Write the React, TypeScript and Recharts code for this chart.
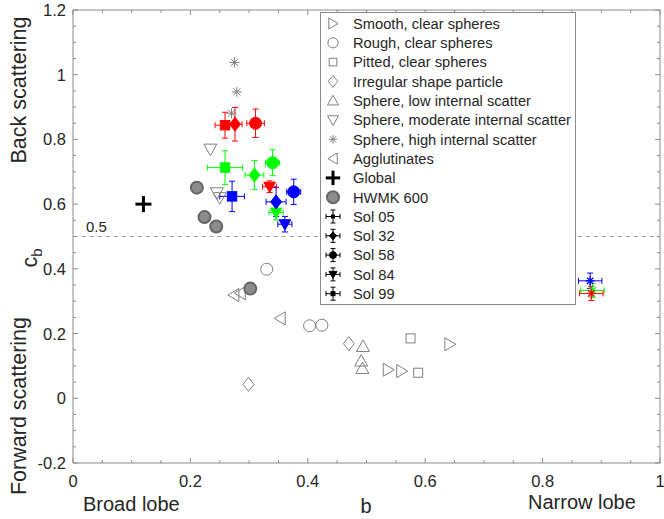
import React from 'react';
import { ScatterChart, Scatter, XAxis, YAxis, ReferenceLine, ErrorBar } from 'recharts';

const FONT = '"Liberation Sans", Arial, Helvetica, sans-serif';
const AXIS = '#8a8a8a';
const GREY = '#7f7f7f';
const TEXT = '#262626';

// ---- Laboratory particle types (b, c) ----
const smoothB = [0.537, 0.56, 0.642];
const smoothC = [0.088, 0.084, 0.167];
const roughB = [0.33, 0.403, 0.424];
const roughC = [0.399, 0.224, 0.226];
const pittedB = [0.575, 0.588];
const pittedC = [0.185, 0.079];
const irregularB = [0.47, 0.299];
const irregularC = [0.169, 0.043];
const lowScatB = [0.494, 0.491, 0.493];
const lowScatC = [0.16, 0.115, 0.092];
const modScatB = [0.234, 0.245, 0.25];
const modScatC = [0.77, 0.635, 0.62];
const highScatB = [0.275, 0.279, 0.27];
const highScatC = [1.038, 0.947, 0.881];
const agglutB = [0.274, 0.285, 0.353];
const agglutC = [0.319, 0.325, 0.247];
const globalB = [0.12];
const globalC = [0.6];
const hwmkB = [0.211, 0.224, 0.244, 0.302];
const hwmkC = [0.651, 0.56, 0.531, 0.339];

// ---- Sol measurements (red / green / blue) ----
const sols = ['Sol 05', 'Sol 32', 'Sol 58', 'Sol 84', 'Sol 99'];
const redB = [0.259, 0.276, 0.311, 0.335, 0.883];
const redC = [0.844, 0.847, 0.85, 0.654, 0.324];
const redBErr = [0.017, 0.012, 0.015, 0.012, 0.02];
const redCErr = [0.04, 0.052, 0.044, 0.018, 0.022];
const greenB = [0.259, 0.309, 0.34, 0.346, 0.885];
const greenC = [0.713, 0.69, 0.728, 0.574, 0.333];
const greenBErr = [0.03, 0.016, 0.012, 0.012, 0.02];
const greenCErr = [0.052, 0.045, 0.04, 0.023, 0.022];
const blueB = [0.271, 0.346, 0.376, 0.361, 0.881];
const blueC = [0.624, 0.607, 0.638, 0.538, 0.363];
const blueBErr = [0.021, 0.017, 0.012, 0.012, 0.02];
const blueCErr = [0.047, 0.045, 0.039, 0.024, 0.024];

// ---- Axes ----
const xTicks = [0, 0.05, 0.1, 0.15, 0.2, 0.25, 0.3, 0.35, 0.4, 0.45, 0.5, 0.55, 0.6, 0.65, 0.7, 0.75, 0.8, 0.85, 0.9, 0.95, 1];
const xTickLabels = ['0', '0.2', '0.4', '0.6', '0.8', '1'];
const yTicks = [-0.2, -0.15, -0.1, -0.05, 0, 0.05, 0.1, 0.15, 0.2, 0.25, 0.3, 0.35, 0.4, 0.45, 0.5, 0.55, 0.6, 0.65, 0.7, 0.75, 0.8, 0.85, 0.9, 0.95, 1, 1.05, 1.1, 1.15, 1.2];
const yTickLabels = ['-0.2', '0', '0.2', '0.4', '0.6', '0.8', '1', '1.2'];

// ---- Legend ----
const legendNames = [
  'Smooth, clear spheres',
  'Rough, clear spheres',
  'Pitted, clear spheres',
  'Irregular shape particle',
  'Sphere,  low internal scatter',
  'Sphere, moderate internal scatter',
  'Sphere, high internal scatter',
  'Agglutinates',
  'Global',
  'HWMK 600',
  'Sol 05',
  'Sol 32',
  'Sol 58',
  'Sol 84',
  'Sol 99',
];
const legendKinds = ['right', 'circle', 'square', 'diamond', 'up', 'down', 'star', 'left', 'plus', 'hwmk', 'sol-square', 'sol-diamond', 'sol-circle', 'sol-down', 'sol-dot'];
const solKinds = ['square', 'diamond', 'circle', 'down', 'star'];

const pts = (bs: number[], cs: number[]) => bs.map((b, i) => ({ b, c: cs[i] }));
const solPts = (bs: number[], cs: number[], ebs: number[], ecs: number[]) =>
  bs.map((b, i) => ({ b, c: cs[i], eb: ebs[i], ec: ecs[i], sol: sols[i], kind: solKinds[i] }));

const fmt = (v: number) => String(Number(v.toFixed(2)));

function Marker({ kind, cx, cy, stroke, fill, sw = 1, s = 1 }: any) {
  const p = (arr: number[][]) => arr.map(([x, y]) => `${cx + x * s},${cy + y * s}`).join(' ');
  const common = { stroke, fill, strokeWidth: sw, strokeLinejoin: 'miter' as const };
  switch (kind) {
    case 'right':
      return <polygon points={p([[-5, -6.5], [6, 0], [-5, 6.5]])} {...common} />;
    case 'left':
      return <polygon points={p([[5, -6.5], [-6, 0], [5, 6.5]])} {...common} />;
    case 'up':
      return <polygon points={p([[0, -6.5], [6.5, 5], [-6.5, 5]])} {...common} />;
    case 'down':
      return <polygon points={p([[-6.5, -5], [6.5, -5], [0, 6.5]])} {...common} />;
    case 'diamond':
      return <polygon points={p([[0, -7], [5.5, 0], [0, 7], [-5.5, 0]])} {...common} />;
    case 'square':
      return <rect x={cx - 4.5 * s} y={cy - 4.5 * s} width={9 * s} height={9 * s} {...common} />;
    case 'circle':
      return <circle cx={cx} cy={cy} r={6 * s} {...common} />;
    case 'star': {
      const r = 5 * s;
      const d = r * 0.72;
      return (
        <g stroke={stroke} strokeWidth={sw}>
          <line x1={cx - r} y1={cy} x2={cx + r} y2={cy} />
          <line x1={cx} y1={cy - r} x2={cx} y2={cy + r} />
          <line x1={cx - d} y1={cy - d} x2={cx + d} y2={cy + d} />
          <line x1={cx - d} y1={cy + d} x2={cx + d} y2={cy - d} />
        </g>
      );
    }
    case 'plus':
      return (
        <g stroke={stroke} strokeWidth={3}>
          <line x1={cx - 8 * s} y1={cy} x2={cx + 8 * s} y2={cy} />
          <line x1={cx} y1={cy - 8 * s} x2={cx} y2={cy + 8 * s} />
        </g>
      );
    case 'hwmk':
      return <circle cx={cx} cy={cy} r={6 * s} fill="#8c8c8c" stroke="#656565" strokeWidth={2} />;
    default:
      return null;
  }
}

const openShape = (kind: string) => (props: any) => (
  <Marker kind={kind} cx={props.cx} cy={props.cy} stroke={GREY} fill="none" />
);

const solShape = (color: string) => (props: any) => {
  const kind = props.payload?.kind;
  if (kind === 'star') {
    return <Marker kind="star" cx={props.cx} cy={props.cy} stroke={color} fill="none" sw={1.3} s={0.9} />;
  }
  const s = kind === 'square' ? 1.05 : kind === 'down' ? 0.9 : 1;
  return <Marker kind={kind} cx={props.cx} cy={props.cy} stroke={color} fill={color} s={s} />;
};

const BottomTick = (props: any) => {
  const { x, y, payload } = props;
  const label = fmt(payload.value);
  const major = xTickLabels.includes(label);
  return (
    <g>
      <line x1={x} y1={y} x2={x} y2={y - (major ? 5 : 3)} stroke={AXIS} />
      {major && (
        <text x={x} y={y + 24} textAnchor="middle" fontSize={16.5} fontFamily={FONT} fill={TEXT}>
          {label}
        </text>
      )}
    </g>
  );
};
const TopTick = (props: any) => {
  const { x, y, payload } = props;
  const major = xTickLabels.includes(fmt(payload.value));
  return <line x1={x} y1={y} x2={x} y2={y + (major ? 5 : 3)} stroke={AXIS} />;
};
const LeftTick = (props: any) => {
  const { x, y, payload } = props;
  const label = fmt(payload.value);
  const major = yTickLabels.includes(label);
  return (
    <g>
      <line x1={x} y1={y} x2={x + (major ? 5 : 3)} y2={y} stroke={AXIS} />
      {major && (
        <text x={x - 7} y={y + 6} textAnchor="end" fontSize={16.5} fontFamily={FONT} fill={TEXT}>
          {label}
        </text>
      )}
    </g>
  );
};
const RightTick = (props: any) => {
  const { x, y, payload } = props;
  const major = yTickLabels.includes(fmt(payload.value));
  return <line x1={x} y1={y} x2={x - (major ? 5 : 3)} y2={y} stroke={AXIS} />;
};

const xAxisLabel = () => (
  <g fontFamily={FONT} fill={TEXT} fontSize={20}>
    <text x={83} y={511}>Broad lobe</text>
    <text x={366} y={513} textAnchor="middle">b</text>
    <text x={528} y={509}>Narrow lobe</text>
  </g>
);
const yAxisLabel = () => (
  <g fontFamily={FONT} fill={TEXT} fontSize={21.5}>
    <text transform="translate(26,90) rotate(-90)" textAnchor="middle">Back scattering</text>
    <text transform="translate(37,258) rotate(-90)" textAnchor="middle">
      c<tspan fontSize={15} dy={5}>b</tspan>
    </text>
    <text transform="translate(26,406) rotate(-90)" textAnchor="middle">Forward scattering</text>
  </g>
);
const refLabel = (props: any) => (
  <text x={props.viewBox.x + 13} y={props.viewBox.y - 5} fontSize={15} fontFamily={FONT} fill={TEXT}>
    0.5
  </text>
);

function SolLegendMarker({ kind, x, y }: any) {
  return (
    <g stroke="#000" strokeWidth={1}>
      <line x1={x - 7} y1={y} x2={x + 7} y2={y} />
      <line x1={x - 7} y1={y - 2.5} x2={x - 7} y2={y + 2.5} />
      <line x1={x + 7} y1={y - 2.5} x2={x + 7} y2={y + 2.5} />
      <line x1={x} y1={y - 6.5} x2={x} y2={y + 6.5} />
      <line x1={x - 2.5} y1={y - 6.5} x2={x + 2.5} y2={y - 6.5} />
      <line x1={x - 2.5} y1={y + 6.5} x2={x + 2.5} y2={y + 6.5} />
      {kind === 'sol-square' && <rect x={x - 1.5} y={y - 1.5} width={3} height={3} fill="#000" />}
      {kind === 'sol-diamond' && <polygon points={`${x},${y - 4} ${x + 3.5},${y} ${x},${y + 4} ${x - 3.5},${y}`} fill="#000" />}
      {kind === 'sol-circle' && <circle cx={x} cy={y} r={3.5} fill="#000" />}
      {kind === 'sol-down' && <polygon points={`${x - 4},${y - 3} ${x + 4},${y - 3} ${x},${y + 4}`} fill="#000" />}
      {kind === 'sol-dot' && <rect x={x - 2} y={y - 2} width={4} height={4} fill="#000" />}
    </g>
  );
}

function LegendBox() {
  return (
    <div
      style={{
        position: 'absolute',
        left: 320,
        top: 12,
        width: 254,
        height: 291,
        border: `1px solid ${AXIS}`,
        background: '#fff',
      }}
    >
      <svg width={254} height={291} style={{ display: 'block' }}>
        {legendNames.map((name, i) => {
          const y = 10.5 + i * 19.3;
          const kind = legendKinds[i];
          let marker: React.ReactNode;
          if (kind.startsWith('sol-')) marker = <SolLegendMarker kind={kind} x={12} y={y} />;
          else if (kind === 'plus') marker = <Marker kind="plus" cx={12} cy={y} stroke="#000" s={0.9} />;
          else if (kind === 'hwmk') marker = <Marker kind="hwmk" cx={12} cy={y} />;
          else marker = <Marker kind={kind} cx={12} cy={y} stroke={GREY} fill="none" s={0.85} />;
          return (
            <g key={name}>
              {marker}
              <text x={32} y={y + 5.3} fontSize={14.7} fontFamily={FONT} fill={TEXT}>
                {name}
              </text>
            </g>
          );
        })}
      </svg>
    </div>
  );
}

export default function App() {
  return (
    <div style={{ position: 'absolute', left: 0, top: 0, width: 664, height: 519, background: '#fff' }}>
      <ScatterChart width={664} height={519} margin={{ top: 9, right: 3, bottom: 55, left: 72 }}>
        <XAxis
          xAxisId="bottom"
          dataKey="b"
          type="number"
          domain={[0, 1]}
          allowDataOverflow
          ticks={xTicks}
          interval={0}
          height={1}
          tickSize={0}
          tickMargin={0}
          tickLine={false}
          tick={BottomTick}
          axisLine={{ stroke: AXIS }}
          label={xAxisLabel}
        />
        <XAxis
          xAxisId="top"
          orientation="top"
          dataKey="b"
          type="number"
          domain={[0, 1]}
          allowDataOverflow
          ticks={xTicks}
          interval={0}
          height={1}
          tickSize={0}
          tickMargin={0}
          tickLine={false}
          tick={TopTick}
          axisLine={{ stroke: AXIS }}
        />
        <YAxis
          yAxisId="left"
          dataKey="c"
          type="number"
          domain={[-0.2, 1.2]}
          allowDataOverflow
          ticks={yTicks}
          interval={0}
          width={1}
          tickSize={0}
          tickMargin={0}
          tickLine={false}
          tick={LeftTick}
          axisLine={{ stroke: AXIS }}
          label={yAxisLabel}
        />
        <YAxis
          yAxisId="right"
          orientation="right"
          dataKey="c"
          type="number"
          domain={[-0.2, 1.2]}
          allowDataOverflow
          ticks={yTicks}
          interval={0}
          width={1}
          tickSize={0}
          tickMargin={0}
          tickLine={false}
          tick={RightTick}
          axisLine={{ stroke: AXIS }}
        />
        <ReferenceLine
          xAxisId="bottom"
          yAxisId="left"
          y={0.5}
          stroke="#b0b0b0"
          strokeDasharray="5 3"
          label={refLabel}
        />
        <Scatter xAxisId="bottom" yAxisId="left" name="Smooth" data={pts(smoothB, smoothC)} shape={openShape('right')} isAnimationActive={false} />
        <Scatter xAxisId="bottom" yAxisId="left" name="Rough" data={pts(roughB, roughC)} shape={openShape('circle')} isAnimationActive={false} />
        <Scatter xAxisId="bottom" yAxisId="left" name="Pitted" data={pts(pittedB, pittedC)} shape={openShape('square')} isAnimationActive={false} />
        <Scatter xAxisId="bottom" yAxisId="left" name="Irregular" data={pts(irregularB, irregularC)} shape={openShape('diamond')} isAnimationActive={false} />
        <Scatter xAxisId="bottom" yAxisId="left" name="Low" data={pts(lowScatB, lowScatC)} shape={openShape('up')} isAnimationActive={false} />
        <Scatter xAxisId="bottom" yAxisId="left" name="Moderate" data={pts(modScatB, modScatC)} shape={openShape('down')} isAnimationActive={false} />
        <Scatter xAxisId="bottom" yAxisId="left" name="High" data={pts(highScatB, highScatC)} shape={openShape('star')} isAnimationActive={false} />
        <Scatter xAxisId="bottom" yAxisId="left" name="Agglutinates" data={pts(agglutB, agglutC)} shape={openShape('left')} isAnimationActive={false} />
        <Scatter
          xAxisId="bottom"
          yAxisId="left"
          name="HWMK 600"
          data={pts(hwmkB, hwmkC)}
          shape={(p: any) => <Marker kind="hwmk" cx={p.cx} cy={p.cy} />}
          isAnimationActive={false}
        />
        <Scatter
          xAxisId="bottom"
          yAxisId="left"
          name="Global"
          data={pts(globalB, globalC)}
          shape={(p: any) => <Marker kind="plus" cx={p.cx} cy={p.cy} stroke="#000" />}
          isAnimationActive={false}
        />
        <Scatter xAxisId="bottom" yAxisId="left" name="Green" data={solPts(greenB, greenC, greenBErr, greenCErr)} shape={solShape('#00ff00')} isAnimationActive={false}>
          <ErrorBar dataKey="eb" direction="x" width={3} stroke="#00ff00" strokeWidth={1} />
          <ErrorBar dataKey="ec" direction="y" width={3} stroke="#00ff00" strokeWidth={1} />
        </Scatter>
        <Scatter xAxisId="bottom" yAxisId="left" name="Blue" data={solPts(blueB, blueC, blueBErr, blueCErr)} shape={solShape('#0000ff')} isAnimationActive={false}>
          <ErrorBar dataKey="eb" direction="x" width={3} stroke="#0000ff" strokeWidth={1} />
          <ErrorBar dataKey="ec" direction="y" width={3} stroke="#0000ff" strokeWidth={1} />
        </Scatter>
        <Scatter xAxisId="bottom" yAxisId="left" name="Red" data={solPts(redB, redC, redBErr, redCErr)} shape={solShape('#ff0000')} isAnimationActive={false}>
          <ErrorBar dataKey="eb" direction="x" width={3} stroke="#ff0000" strokeWidth={1} />
          <ErrorBar dataKey="ec" direction="y" width={3} stroke="#ff0000" strokeWidth={1} />
        </Scatter>
      </ScatterChart>
      <LegendBox />
    </div>
  );
}
